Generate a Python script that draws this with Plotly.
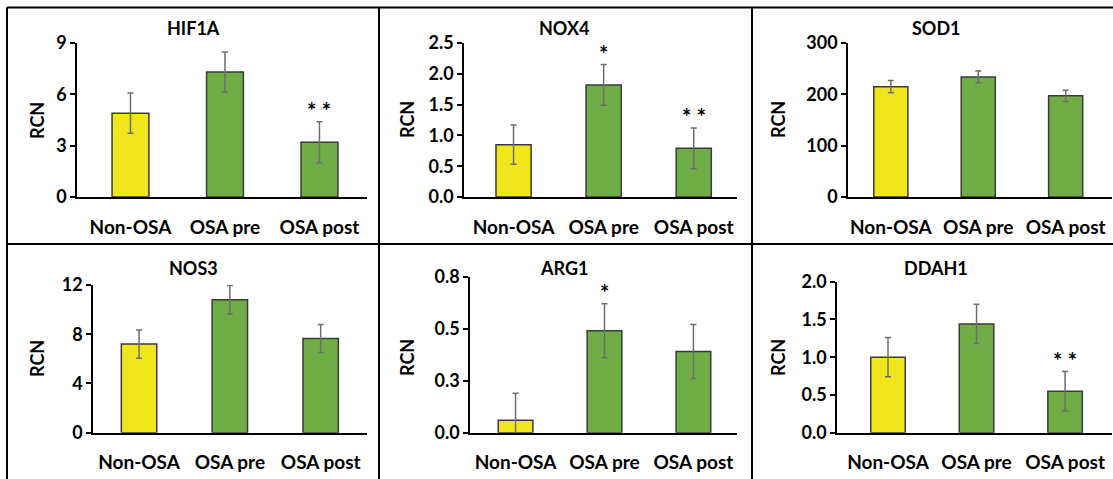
import plotly.graph_objects as go

W, H = 1113, 479

categories = ["Non-OSA", "OSA pre", "OSA post"]
genes = ["HIF1A", "NOX4", "SOD1", "NOS3", "ARG1", "DDAH1"]

hif1a_mean = [4.9, 7.3, 3.2]
hif1a_err = [1.18, 1.18, 1.2]
nox4_mean = [0.85, 1.82, 0.79]
nox4_err = [0.32, 0.33, 0.33]
sod1_mean = [215, 234, 197]
sod1_err = [12, 11.5, 11]
nos3_mean = [7.2, 10.8, 7.65]
nos3_err = [1.15, 1.15, 1.14]
arg1_mean = [0.06, 0.49, 0.39]
arg1_err = [0.13, 0.13, 0.13]
ddah1_mean = [1.0, 1.44, 0.55]
ddah1_err = [0.26, 0.26, 0.26]

hif1a_sig = ["", "", "* *"]
nox4_sig = ["", "*", "* *"]
sod1_sig = ["", "", ""]
nos3_sig = ["", "", ""]
arg1_sig = ["", "*", ""]
ddah1_sig = ["", "", "* *"]

y_ranges = [[0, 9], [0, 2.5], [0, 300], [0, 12], [0, 0.75], [0, 2]]
y_tickvals = [[0, 3, 6, 9], [0, 0.5, 1, 1.5, 2, 2.5], [0, 100, 200, 300],
              [0, 4, 8, 12], [0, 0.25, 0.5, 0.75], [0, 0.5, 1, 1.5, 2]]
y_ticktext = [["0", "3", "6", "9"], ["0.0", "0.5", "1.0", "1.5", "2.0", "2.5"],
              ["0", "100", "200", "300"], ["0", "4", "8", "12"],
              ["0.0", "0.3", "0.5", "0.8"], ["0.0", "0.5", "1.0", "1.5", "2.0"]]

means = [hif1a_mean, nox4_mean, sod1_mean, nos3_mean, arg1_mean, ddah1_mean]
errs = [hif1a_err, nox4_err, sod1_err, nos3_err, arg1_err, ddah1_err]
sigs = [hif1a_sig, nox4_sig, sod1_sig, nos3_sig, arg1_sig, ddah1_sig]

bar_colors = ["#EFE61C", "#70AD47", "#70AD47"]

# layout: plot-area pixel boxes (left, right, bottom, top) and category-axis ranges
boxes = [(77, 367, 197, 43), (464, 737, 197, 43), (848, 1112, 197, 43),
         (93, 367, 432.7, 285), (470, 737, 432.7, 276.7), (837, 1112, 432.7, 281.7)]
x_ranges = [[-0.566, 2.503], [-0.55, 2.48], [-0.49, 2.53],
            [-0.507, 2.51], [-0.512, 2.49], [-0.576, 2.53]]
col_centers = [193, 564, 936]
row_title_y = [28, 268]
rcn_x = [37, 407, 778]
rcn_y = [120, 358]

FONT = "Lato, 'Open Sans', Arial, sans-serif"

def px(x):
    return x / W

def py(y):
    return 1 - y / H

fig = go.Figure()
annotations = []
for i in range(6):
    n = i + 1
    xa = "x" if n == 1 else f"x{n}"
    ya = "y" if n == 1 else f"y{n}"
    fig.add_trace(go.Bar(
        x=categories, y=means[i], xaxis=xa, yaxis=ya,
        marker=dict(color=bar_colors, line=dict(color="#3a3a3a", width=1.5)),
        width=0.39,
        error_y=dict(type="data", array=errs[i], color="#6e6e6e", thickness=1.5, width=3),
        showlegend=False, hoverinfo="skip",
    ))
    l, r, b, t = boxes[i]
    fig.layout[f"xaxis{n}" if n > 1 else "xaxis"] = dict(
        domain=[px(l), px(r)], anchor=ya, range=x_ranges[i],
        showline=True, linecolor="black", linewidth=1.5,
        ticks="outside", ticklen=12, tickcolor="rgba(0,0,0,0)", showgrid=False,
        automargin=False,
        tickfont=dict(family=FONT, size=19, color="black", weight="bold"),
        fixedrange=True,
    )
    fig.layout[f"yaxis{n}" if n > 1 else "yaxis"] = dict(
        domain=[py(b), py(t)], anchor=xa, range=y_ranges[i],
        tickvals=y_tickvals[i], ticktext=y_ticktext[i],
        showline=True, linecolor="black", linewidth=1.5,
        ticks="outside", ticklen=5, tickcolor="black", tickwidth=1.5, showgrid=False,
        zeroline=False, automargin=False, fixedrange=True,
        tickfont=dict(family=FONT, size=18, color="black", weight="bold"),
    )
    col = i % 3
    row = i // 3
    annotations.append(dict(
        text=genes[i], x=px(col_centers[col]), y=py(row_title_y[row]),
        xref="paper", yref="paper", showarrow=False, xanchor="center", yanchor="middle",
        font=dict(family=FONT, size=18, color="black", weight="bold"),
    ))
    annotations.append(dict(
        text="RCN", x=px(rcn_x[col]), y=py(rcn_y[row]), textangle=-90,
        xref="paper", yref="paper", showarrow=False, xanchor="center", yanchor="middle",
        font=dict(family=FONT, size=18, color="black", weight="bold"),
    ))
    for j, s in enumerate(sigs[i]):
        if s:
            annotations.append(dict(
                text=s, x=categories[j], y=means[i][j] + errs[i][j], xref=xa, yref=ya,
                showarrow=False, xanchor="center", yanchor="bottom", yshift=-4,
                font=dict(family=FONT, size=22, color="black", weight="bold"),
            ))

line = dict(color="black", width=2)
shapes = [
    dict(type="line", xref="paper", yref="paper", x0=px(7), x1=1, y0=py(7.5), y1=py(7.5), line=line),
    dict(type="line", xref="paper", yref="paper", x0=px(7), x1=px(7), y0=py(7.5), y1=0, line=line),
    dict(type="line", xref="paper", yref="paper", x0=px(379), x1=px(379), y0=py(7.5), y1=0, line=line),
    dict(type="line", xref="paper", yref="paper", x0=px(752), x1=px(752), y0=py(7.5), y1=0, line=line),
    dict(type="line", xref="paper", yref="paper", x0=px(7), x1=1, y0=py(244), y1=py(244), line=line),
]

fig.update_layout(
    width=W, height=H, margin=dict(l=0, r=0, t=0, b=0, autoexpand=False),
    paper_bgcolor="white", plot_bgcolor="white",
    annotations=annotations, shapes=shapes, bargap=0.6,
)

fig.write_html("out.html", config={"displayModeBar": False},
               post_script="document.body.style.margin='0';document.body.style.overflow='hidden';")
